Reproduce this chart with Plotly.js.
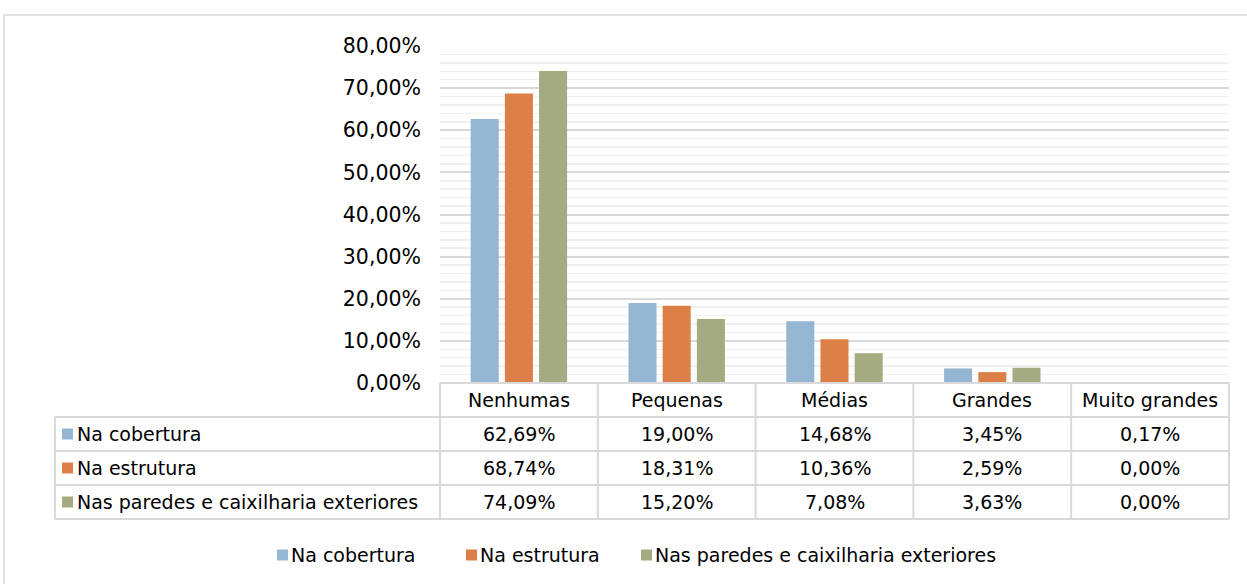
<!DOCTYPE html>
<html><head><meta charset="utf-8">
<script src="https://cdn.plot.ly/plotly-3.0.1.min.js"></script>
<style>html,body{margin:0;padding:0;background:#fff}#chart{width:1247px;height:584px}</style>
</head><body><div id="chart"></div>
<script>
const categories = ['Nenhumas', 'Pequenas', 'Médias', 'Grandes', 'Muito grandes'];
const seriesNames = ['Na cobertura', 'Na estrutura', 'Nas paredes e caixilharia exteriores'];
const naCobertura = [62.69, 19.00, 14.68, 3.45, 0.17];
const naEstrutura = [68.74, 18.31, 10.36, 2.59, 0.00];
const nasParedes = [74.09, 15.20, 7.08, 3.63, 0.00];
const yTickValues = [0, 10, 20, 30, 40, 50, 60, 70, 80];

const seriesValues = [naCobertura, naEstrutura, nasParedes];
const colors = ['#94B6D2', '#DD8047', '#A5AB81'];
const W = 1247, H = 584, L = 440, R = 1229, T = 46, B = 383;
const pw = R - L, ph = B - T;
const px = x => (x - L) / pw;
const py = y => (B - y) / ph;
const fmt = v => v.toFixed(2).replace('.', ',') + '%';
const FONT = 'DejaVu Sans, sans-serif';
const font = {family: FONT, size: 19, color: '#000'};
const gridC = '#d9d9d9';

const traces = seriesValues.map((vals, i) => ({
  type: 'bar', x: categories, y: vals, name: seriesNames[i],
  marker: {color: colors[i], line: {width: 0}}, showlegend: false, hoverinfo: 'skip'
}));

const shapes = [], annotations = [];
const line = (x0, y0, x1, y1, w) => shapes.push({type: 'line', xref: 'paper', yref: 'paper',
  x0: px(x0), x1: px(x1), y0: py(y0), y1: py(y1), line: {color: gridC, width: w || 2}});
// outer frame
shapes.push({type: 'rect', xref: 'paper', yref: 'paper', x0: px(4), x1: px(1255), y0: py(595), y1: py(15),
  line: {color: gridC, width: 1.5}, fillcolor: 'rgba(0,0,0,0)', layer: 'below'});

// table geometry
const rowY = [383, 417, 451, 485, 519];
const leftX = 55;
const colX = [];
for (let i = 0; i <= categories.length; i++) colX.push(L + i * pw / categories.length);

line(L, rowY[0], R, rowY[0]);
for (let r = 1; r < rowY.length; r++) line(leftX, rowY[r], R, rowY[r]);
line(leftX, rowY[1], leftX, rowY[4]);
colX.forEach(x => line(x, rowY[0], x, rowY[4]));

// header labels
categories.forEach((c, i) => annotations.push({xref: 'paper', yref: 'paper',
  x: px((colX[i] + colX[i + 1]) / 2), y: py((rowY[0] + rowY[1]) / 2), text: c, showarrow: false,
  xanchor: 'center', yanchor: 'middle', font: font}));

// rows
seriesValues.forEach((vals, s) => {
  const yc = (rowY[s + 1] + rowY[s + 2]) / 2;
  shapes.push({type: 'rect', xref: 'paper', yref: 'paper', x0: px(62), x1: px(73), y0: py(yc + 5.5), y1: py(yc - 5.5),
    fillcolor: colors[s], line: {width: 0}});
  annotations.push({xref: 'paper', yref: 'paper', x: px(75), y: py(yc), text: seriesNames[s], showarrow: false,
    xanchor: 'left', yanchor: 'middle', font: font});
  vals.forEach((v, i) => annotations.push({xref: 'paper', yref: 'paper',
    x: px((colX[i] + colX[i + 1]) / 2), y: py(yc), text: fmt(v), showarrow: false,
    xanchor: 'center', yanchor: 'middle', font: font}));
});

// legend
const legKeyX = [277, 466, 641];
const legY = 555;
seriesNames.forEach((n, s) => {
  shapes.push({type: 'rect', xref: 'paper', yref: 'paper', x0: px(legKeyX[s]), x1: px(legKeyX[s] + 11),
    y0: py(legY + 5.5), y1: py(legY - 5.5), fillcolor: colors[s], line: {width: 0}});
  annotations.push({xref: 'paper', yref: 'paper', x: px(legKeyX[s] + 12), y: py(legY), text: n, showarrow: false,
    xanchor: 'left', yanchor: 'middle', font: font});
});

const layout = {
  width: W, height: H,
  margin: {l: L, r: W - R, t: T, b: H - B, pad: 0},
  paper_bgcolor: '#fff', plot_bgcolor: '#fff',
  separators: ',.',
  barmode: 'group', bargap: 0.35, bargroupgap: 0.18,
  xaxis: {showticklabels: false, showgrid: false, showline: false, zeroline: false, ticks: '', fixedrange: true},
  yaxis: {range: [0, 80], tickmode: 'array', tickvals: yTickValues, ticktext: yTickValues.map(fmt),
    showgrid: true, gridcolor: gridC, gridwidth: 2, zeroline: false, showline: false, ticks: '',
    ticklabelstandoff: 18, tickfont: {family: FONT, size: 20.5, color: '#000'},
    minor: {dtick: 2, showgrid: true, gridcolor: '#efefef', gridwidth: 1.5, ticks: ''},
    fixedrange: true},
  shapes: shapes, annotations: annotations, showlegend: false
};
Plotly.newPlot('chart', traces, layout, {staticPlot: true, displayModeBar: false});
</script></body></html>
